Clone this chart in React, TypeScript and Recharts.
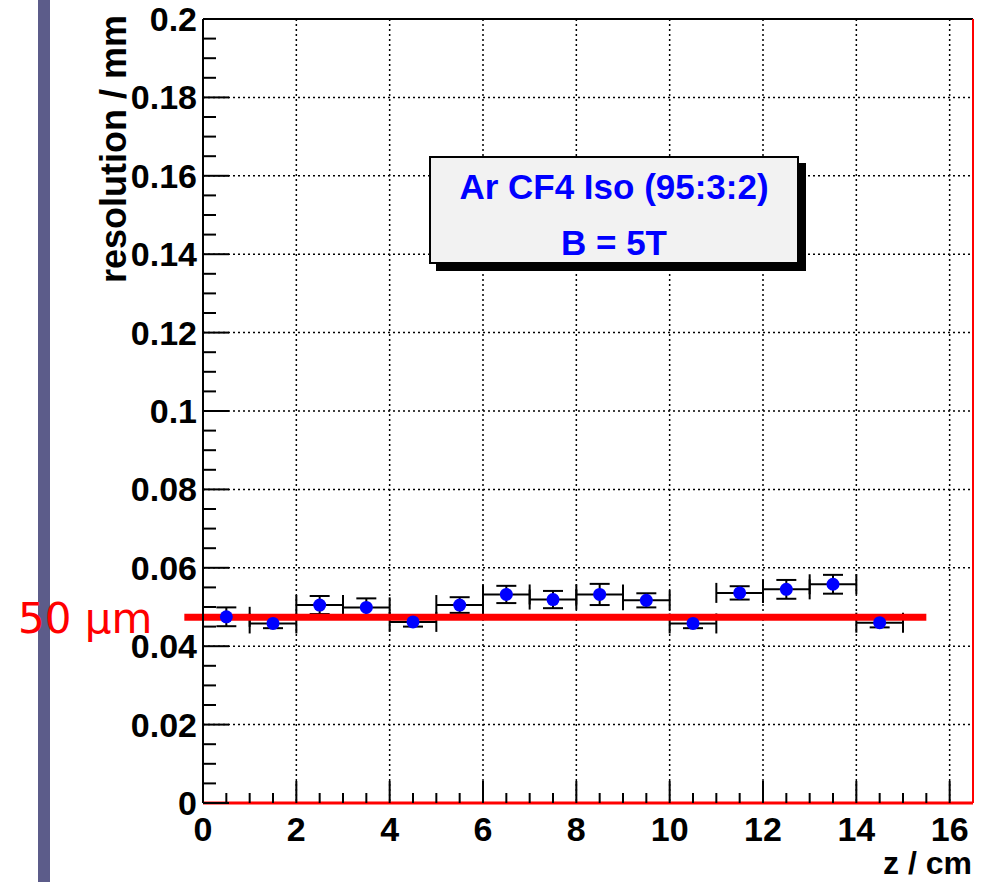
import React from "react";
import { ScatterChart, Scatter, XAxis, YAxis, CartesianGrid, ErrorBar, ReferenceLine } from "recharts";

const zCenters = [0.5, 1.5, 2.5, 3.5, 4.5, 5.5, 6.5, 7.5, 8.5, 9.5, 10.5, 11.5, 12.5, 13.5, 14.5];
const resolution = [0.0475, 0.0458, 0.0505, 0.0499, 0.0462, 0.0505, 0.0532, 0.0519, 0.0532, 0.0517, 0.0458, 0.0536, 0.0545, 0.0558, 0.046];
const resErr = [0.0024, 0.0012, 0.0023, 0.0023, 0.0012, 0.002, 0.0022, 0.0022, 0.0027, 0.0018, 0.0012, 0.0017, 0.0024, 0.0024, 0.0012];
const zHalfWidth = [0.5, 0.5, 0.5, 0.5, 0.5, 0.5, 0.5, 0.5, 0.5, 0.5, 0.5, 0.5, 0.5, 0.5, 0.5];

const xMajor = [0, 2, 4, 6, 8, 10, 12, 14, 16];
const xLabels = ["0", "2", "4", "6", "8", "10", "12", "14", "16"];
const yMajor = [0, 0.02, 0.04, 0.06, 0.08, 0.1, 0.12, 0.14, 0.16, 0.18, 0.2];
const yLabels = ["0", "0.02", "0.04", "0.06", "0.08", "0.1", "0.12", "0.14", "0.16", "0.18", "0.2"];
const xGrid = [2, 4, 6, 8, 10, 12, 14, 16];
const yGrid = [0.02, 0.04, 0.06, 0.08, 0.1, 0.12, 0.14, 0.16, 0.18];

const refLevel = 0.0474;
const refStart = -0.4;
const refEnd = 15.5;

// minor ticks: 4 per major step on both axes
const xTicks: number[] = [];
for (let i = 0; i < xMajor.length - 1; i++) for (let k = 0; k < 4; k++) xTicks.push(xMajor[i] + (k * (xMajor[i + 1] - xMajor[i])) / 4);
xTicks.push(16);
const yTicks: number[] = [];
for (let i = 0; i < yMajor.length - 1; i++) for (let k = 0; k < 4; k++) yTicks.push(+(yMajor[i] + (k * (yMajor[i + 1] - yMajor[i])) / 4).toFixed(4));
yTicks.push(0.2);

const data = zCenters.map((z, i) => ({ z, res: resolution[i], ey: resErr[i], ex: zHalfWidth[i] }));

const FONT = "'Liberation Sans', Arial, sans-serif";

function findMajor(list: number[], v: number) {
  return list.findIndex(m => Math.abs(m - v) < 1e-6);
}

const XTick = (props: any) => {
  const { x, y, payload } = props;
  const idx = findMajor(xMajor, payload.value);
  return (
    <g>
      <line x1={x} y1={y} x2={x} y2={y - (idx >= 0 ? 22 : 10)} stroke="#000" strokeWidth={2} />
      {idx >= 0 && (
        <text x={x} y={y + 26} textAnchor="middle" dominantBaseline="central" fontFamily={FONT} fontWeight="bold" fontSize={34} fill="#000">
          {xLabels[idx]}
        </text>
      )}
    </g>
  );
};

const YTick = (props: any) => {
  const { x, y, payload } = props;
  const idx = findMajor(yMajor, payload.value);
  return (
    <g>
      <line x1={x} y1={y} x2={x + (idx >= 0 ? 26 : 13)} y2={y} stroke="#000" strokeWidth={2} />
      {idx >= 0 && (
        <text x={x - 6} y={y} textAnchor="end" dominantBaseline="central" fontFamily={FONT} fontWeight="bold" fontSize={34} fill="#000">
          {yLabels[idx]}
        </text>
      )}
    </g>
  );
};

const Dot = (props: any) => <circle cx={props.cx} cy={props.cy} r={6.5} fill="#0000ff" />;
const NoDot = () => <g />;

export default function App() {
  return (
    <div style={{ position: "absolute", left: 0, top: 0, width: 986, height: 882, background: "#fff" }}>
      <div style={{ position: "absolute", left: 38, top: 0, width: 12, height: 882, background: "#5c5c8a" }} />
      <ScatterChart width={986} height={882} margin={{ top: 18, right: 12, bottom: 19, left: 103 }}>
        <CartesianGrid
          horizontalValues={yGrid}
          verticalValues={xGrid}
          stroke="#000"
          strokeWidth={1.5}
          strokeDasharray="2 3"
        />
        <XAxis
          dataKey="z"
          type="number"
          domain={[0, 16.5]}
          ticks={xTicks}
          interval={0}
          tickSize={0}
          tickMargin={0}
          tickLine={false}
          tick={XTick}
          height={60}
          axisLine={{ stroke: "#ff0000", strokeWidth: 3 }}
          allowDataOverflow
        />
        <XAxis xAxisId="top" orientation="top" type="number" domain={[0, 16.5]} tick={false} tickLine={false} height={1} axisLine={{ stroke: "#000", strokeWidth: 2 }} />
        <YAxis
          dataKey="res"
          type="number"
          domain={[0, 0.2]}
          ticks={yTicks}
          interval={0}
          tickSize={0}
          tickMargin={0}
          tickLine={false}
          tick={YTick}
          width={100}
          axisLine={{ stroke: "#000", strokeWidth: 2 }}
          allowDataOverflow
        />
        <YAxis yAxisId="right" orientation="right" type="number" domain={[0, 0.2]} tick={false} tickLine={false} width={1} axisLine={{ stroke: "#ff0000", strokeWidth: 2 }} />
        <Scatter data={data} shape={Dot} isAnimationActive={false} />
        <Scatter data={data} shape={NoDot} isAnimationActive={false}>
          <ErrorBar dataKey="ey" direction="y" width={10} stroke="#000" strokeWidth={2} />
          <ErrorBar dataKey="ex" direction="x" width={10} stroke="#000" strokeWidth={2} />
        </Scatter>
        <ReferenceLine
          segment={[{ x: refStart, y: refLevel }, { x: refEnd, y: refLevel }]}
          stroke="#ff0000"
          strokeWidth={7}
          ifOverflow="visible"
        />
        <text x={126} y={15} transform="rotate(-90 126 15)" textAnchor="end" fontFamily={FONT} fontWeight="bold" fontSize={36} fill="#000">
          resolution / mm
        </text>
        <text x={972} y={874} textAnchor="end" fontFamily={FONT} fontWeight="bold" fontSize={32} fill="#000">
          z / cm
        </text>
        <text x={18} y={633} fontFamily="'DejaVu Sans', sans-serif" fontSize={42} fill="#ff0000">
          50 μm
        </text>
      </ScatterChart>
      <div
        style={{
          position: "absolute",
          left: 429,
          top: 156,
          width: 366,
          height: 104,
          background: "#f2f2f2",
          border: "2px solid #000",
          boxShadow: "7px 7px 0 #000",
          fontFamily: FONT,
          fontWeight: "bold",
          fontSize: 35,
          color: "#0000ff",
          textAlign: "center",
          lineHeight: "58px",
        }}
      >
        <div style={{ height: 56 }}>Ar CF4 Iso (95:3:2)</div>
        <div>B = 5T</div>
      </div>
    </div>
  );
}
